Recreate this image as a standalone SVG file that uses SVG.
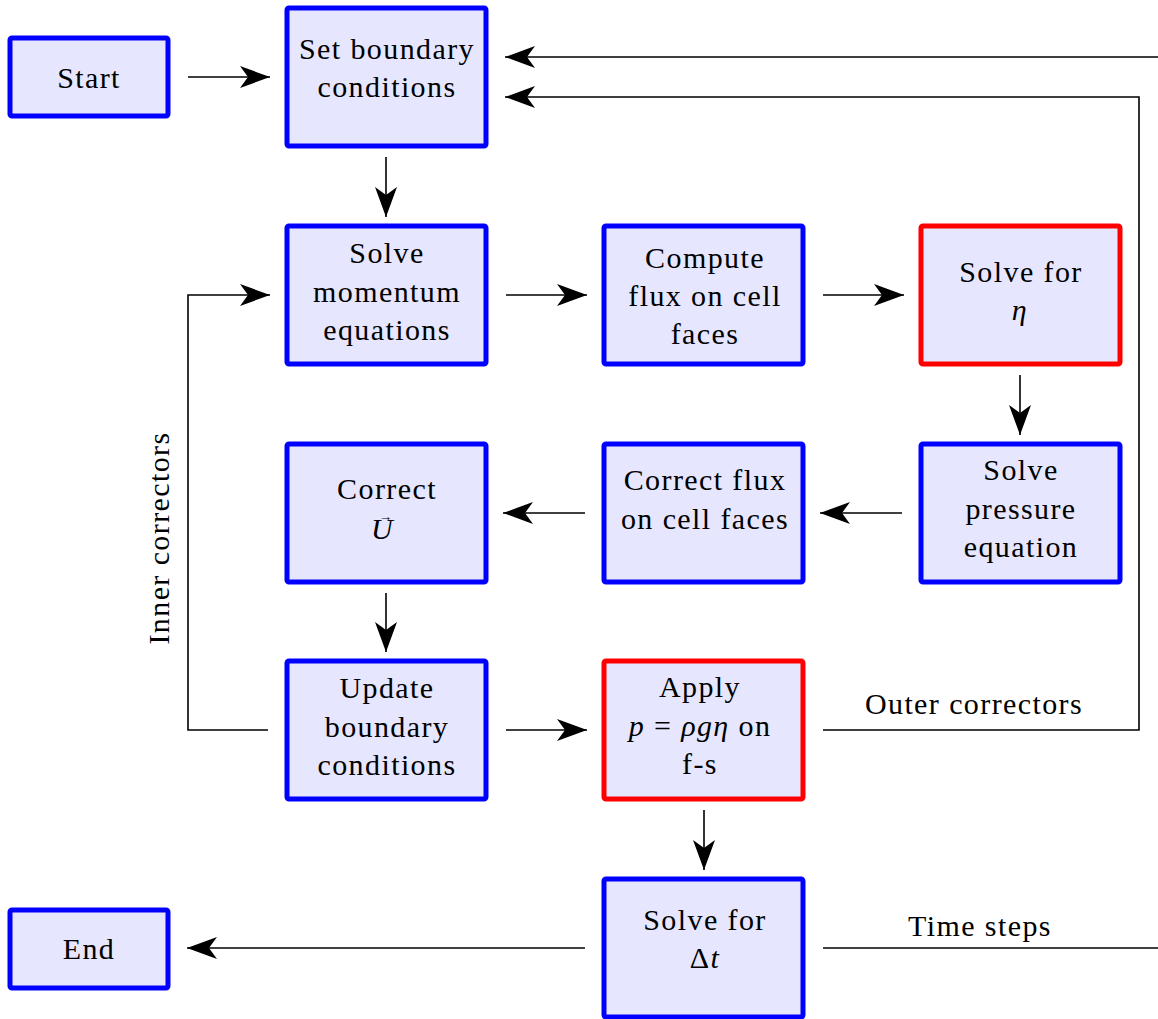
<svg xmlns="http://www.w3.org/2000/svg" width="1158" height="1019" viewBox="0 0 1158 1019">
<style>
.box{fill:#e6e6ff;stroke:#0000ff;stroke-width:5}
.red{stroke:#ff0000}
.t{font-family:"Liberation Serif","Times New Roman",serif;font-size:30px;letter-spacing:1.4px;fill:#000;text-anchor:middle}
.m{font-style:italic}
.c{fill:none;stroke:#000;stroke-width:1.6}
</style>
<defs>
<marker id="ah" markerUnits="userSpaceOnUse" markerWidth="32" markerHeight="24" viewBox="-31 -12 32 24" refX="0" refY="0" orient="auto">
<path d="M0,0 L-30,-11 L-22,0 L-30,11 z" fill="#000"/>
</marker>
</defs>
<rect width="1158" height="1019" fill="#fff"/>
<g id="connectors">
<path class="c" d="M188,77 L270,77" marker-end="url(#ah)"/>
<path class="c" d="M386,157 L386,217" marker-end="url(#ah)"/>
<path class="c" d="M506,295 L587,295" marker-end="url(#ah)"/>
<path class="c" d="M823,295 L904,295" marker-end="url(#ah)"/>
<path class="c" d="M1020,375 L1020,435" marker-end="url(#ah)"/>
<path class="c" d="M902,513 L820,513" marker-end="url(#ah)"/>
<path class="c" d="M585,513 L503,513" marker-end="url(#ah)"/>
<path class="c" d="M386,593 L386,652" marker-end="url(#ah)"/>
<path class="c" d="M506,730 L587,730" marker-end="url(#ah)"/>
<path class="c" d="M704,810 L704,870" marker-end="url(#ah)"/>
<path class="c" d="M585,948 L187,948" marker-end="url(#ah)"/>
<path class="c" d="M268,730 L188,730 L188,295 L270,295" marker-end="url(#ah)"/>
<path class="c" d="M823,730 L1139,730 L1139,97 L505,97" marker-end="url(#ah)"/>
<path class="c" d="M823,948 L1158,948"/>
<path class="c" d="M1158,57 L505,57" marker-end="url(#ah)"/>
<text class="t" transform="translate(169,538) rotate(-90)">Inner correctors</text>
<text class="t" x="974" y="714">Outer correctors</text>
<text class="t" x="980" y="936">Time steps</text>
</g>
<g id="start"><rect class="box" x="10" y="38" width="158" height="78" rx="2"/><text class="t" x="89" y="88">Start</text></g>
<g id="setbc"><rect class="box" x="287" y="8" width="199" height="138" rx="2"/><text class="t" x="387" y="59">Set boundary</text><text class="t" x="387" y="97">conditions</text></g>
<g id="momentum"><rect class="box" x="287" y="226" width="199" height="138" rx="2"/><text class="t" x="387" y="263">Solve</text><text class="t" x="387" y="302">momentum</text><text class="t" x="387" y="340">equations</text></g>
<g id="flux"><rect class="box" x="604" y="226" width="199" height="138" rx="2"/><text class="t" x="705" y="268">Compute</text><text class="t" x="705" y="306">flux on cell</text><text class="t" x="705" y="344">faces</text></g>
<g id="eta"><rect class="box red" x="921" y="226" width="199" height="138" rx="2"/><text class="t" x="1021" y="282">Solve for</text><text class="t m" x="1020" y="320">η</text></g>
<g id="pressure"><rect class="box" x="921" y="444" width="199" height="138" rx="2"/><text class="t" x="1021" y="480">Solve</text><text class="t" x="1021" y="519">pressure</text><text class="t" x="1021" y="557">equation</text></g>
<g id="corrflux"><rect class="box" x="604" y="444" width="199" height="138" rx="2"/><text class="t" x="705" y="490">Correct flux</text><text class="t" x="705" y="529">on cell faces</text></g>
<g id="corru"><rect class="box" x="287" y="444" width="199" height="138" rx="2"/><text class="t" x="387" y="499">Correct</text><text class="t m" style="text-anchor:start" x="371" y="539">U<tspan style="font-style:normal;font-size:13px;letter-spacing:0" dx="-15" dy="-18">→</tspan></text></g>
<g id="update"><rect class="box" x="287" y="661" width="199" height="138" rx="2"/><text class="t" x="387" y="698">Update</text><text class="t" x="387" y="737">boundary</text><text class="t" x="387" y="775">conditions</text></g>
<g id="apply"><rect class="box red" x="604" y="661" width="199" height="138" rx="2"/><text class="t" x="700" y="697">Apply</text><text class="t" x="700" y="736"><tspan class="m">p</tspan> = <tspan class="m">ρgη</tspan> on</text><text class="t" x="700" y="774">f-s</text></g>
<g id="dt"><rect class="box" x="604" y="879" width="199" height="138" rx="2"/><text class="t" x="705" y="930">Solve for</text><text class="t" x="705" y="968">Δ<tspan class="m">t</tspan></text></g>
<g id="end"><rect class="box" x="10" y="910" width="158" height="78" rx="2"/><text class="t" x="89" y="959">End</text></g>
</svg>
